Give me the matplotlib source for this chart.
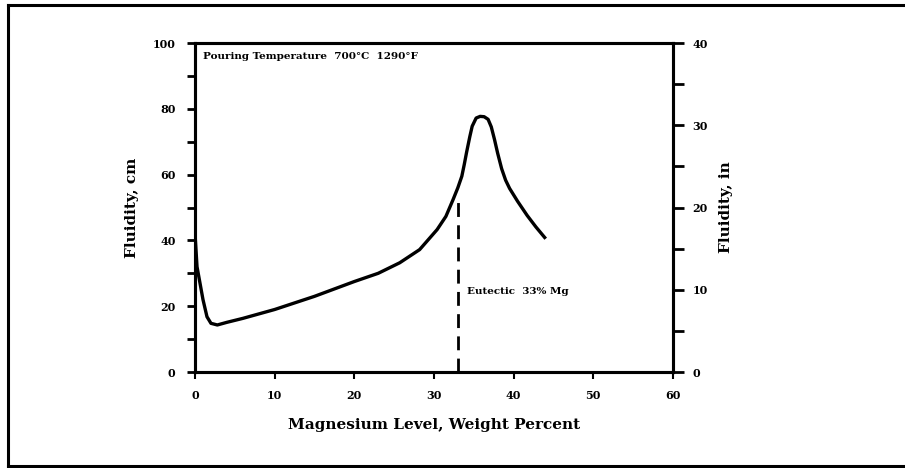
import matplotlib
matplotlib.use("Agg")
import matplotlib.pyplot as plt
from matplotlib.lines import Line2D

# Fluidity vs magnesium content
mg_pct = [0, 0.25, 1.0, 1.5, 2.0, 2.8, 4, 6, 10, 15, 20, 23, 25.7, 28.2, 30.4, 31.5, 32.4,
          33.0, 33.5, 33.8, 34.1, 34.5, 34.8, 35.3, 35.8, 36.3, 36.8, 37.2, 37.6, 38.0, 38.5,
          39.0, 39.5, 40.5, 41.7, 42.8, 43.9]
fluidity_cm = [42, 32, 22, 16.8, 14.8, 14.3, 15.1, 16.3, 19, 23, 27.5, 30, 33.2, 37.2, 43.3,
               47.3, 52.4, 56, 59.5, 63, 66.8, 71.5, 74.7, 77.2, 77.7, 77.6, 76.8, 74.5,
               70.7, 66.5, 61.8, 58.3, 55.8, 51.9, 47.6, 44.1, 40.9]

eutectic_x = 33
eutectic_top = 52.4

x_ticks = [0, 10, 20, 30, 40, 50, 60]
cm_ticks = [0, 20, 40, 60, 80, 100]
in_ticks = [0, 10, 20, 30, 40]

font = "DejaVu Serif"
plt.rcParams['font.family'] = font
plt.rcParams['font.weight'] = 'bold'

fig = plt.figure(figsize=(9.05, 4.68), dpi=100)
ax = fig.add_axes([0.2155, 0.2051, 0.528, 0.703])

ax.plot(mg_pct, fluidity_cm, color="black", lw=2.4, solid_joinstyle="round")
ax.plot([eutectic_x, eutectic_x], [0, eutectic_top], color="black", lw=2,
        linestyle=(0, (5, 3)))

ax.set_xlim(0, 60)
ax.set_ylim(0, 100)
ax.set_xticks(x_ticks)
ax.set_yticks(cm_ticks)
ax.set_yticks(range(10, 100, 20), minor=True)
ax.tick_params(axis="both", which="both", direction="out", width=2, length=6,
               labelsize=8, pad=8)
ax.tick_params(axis="x", length=5, width=1.5)

for s in ax.spines.values():
    s.set_linewidth(2.2)

ax2 = ax.twinx()
ax2.set_ylim(0, 40)
ax2.set_yticks(in_ticks)
ax2.set_yticks(range(5, 40, 10), minor=True)
ax2.tick_params(axis="y", which="both", direction="out", width=2, length=8,
                labelsize=8, pad=6)
for s in ax2.spines.values():
    s.set_linewidth(2.2)

ax.set_xlabel("Magnesium Level, Weight Percent", fontsize=11, fontweight="bold", labelpad=12)
ax.set_ylabel("Fluidity, cm", fontsize=11, fontweight="bold", labelpad=10)
ax2.set_ylabel("Fluidity, in", fontsize=11, fontweight="bold", labelpad=8, rotation=90)

ax.text(1.0, 96, "Pouring Temperature  700\u00b0C  1290\u00b0F", fontsize=7.5,
        fontweight="bold", va="center", ha="left")
ax.text(34.2, 24.5, "Eutectic  33% Mg", fontsize=7.5, fontweight="bold",
        va="center", ha="left")

# outer frame of the figure
frame = dict(color="black", lw=2.2, transform=fig.transFigure)
fig.add_artist(Line2D([0.009, 1.0], [0.99, 0.99], **frame))
fig.add_artist(Line2D([0.009, 0.009], [0.004, 0.99], **frame))
fig.add_artist(Line2D([0.009, 1.0], [0.004, 0.004], **frame))

fig.savefig("out.png", dpi=100)
